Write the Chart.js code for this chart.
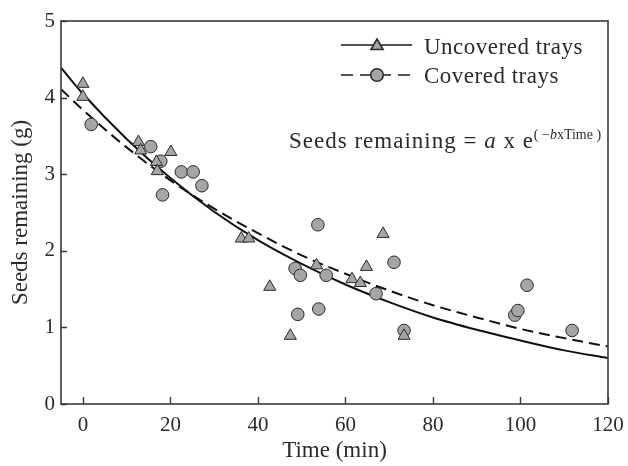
<!DOCTYPE html>
<html>
<head>
<meta charset="utf-8">
<script src="https://cdn.jsdelivr.net/npm/chart.js@4.4.0/dist/chart.umd.min.js"></script>
<style>
html, body { margin: 0; padding: 0; background: #fff; }
#wrap { width: 628px; height: 466px; }
</style>
</head>
<body>
<div id="wrap"><canvas id="chart" width="628" height="466"></canvas></div>
<script>
// 数据
const uncoveredTime  = [0, 0, 12.7, 13.2, 16.8, 17.0, 20.1, 36.2, 37.9, 42.7, 47.4, 53.4, 61.5, 63.4, 64.8, 68.6, 73.4];
const uncoveredSeeds = [4.18, 4.01, 3.42, 3.31, 3.16, 3.04, 3.29, 2.16, 2.16, 1.53, 0.89, 1.81, 1.63, 1.58, 1.79, 2.22, 0.89];

const coveredTime  = [1.9, 15.5, 17.8, 18.2, 22.5, 25.2, 27.2, 48.5, 49.1, 49.7, 53.7, 53.9, 55.6, 67.0, 71.1, 73.4, 98.7, 99.4, 101.5, 111.8];
const coveredSeeds = [3.65, 3.36, 3.17, 2.73, 3.03, 3.03, 2.85, 1.77, 1.17, 1.68, 2.34, 1.24, 1.68, 1.44, 1.85, 0.96, 1.16, 1.22, 1.55, 0.96];

// fitted curves
const fitTime        = [-5, 0, 10, 20, 30, 40, 50, 60, 70, 80, 90, 100, 110, 120];
const uncoveredFit   = [4.39, 4.05, 3.46, 2.95, 2.51, 2.14, 1.83, 1.56, 1.33, 1.13, 0.97, 0.83, 0.70, 0.60];
const coveredFit     = [4.11, 3.84, 3.35, 2.92, 2.55, 2.23, 1.94, 1.70, 1.48, 1.29, 1.13, 0.98, 0.86, 0.75];

const xTicks = [0, 20, 40, 60, 80, 100, 120];
const yTicks = [0, 1, 2, 3, 4, 5];

const SERIF = "'Liberation Serif', 'Times New Roman', serif";
const INK = '#2b2b2b';
const MARKER_FILL = '#a5a5a5';

function toPoints(xs, ys) {
    return xs.map((x, i) => ({ x: x, y: ys[i] }));
}

// 边框、刻度、图例、公式
const decorPlugin = {
    id: 'decor',
    afterDraw(chart) {
        const ctx = chart.ctx;
        const area = chart.chartArea;
        const xs = chart.scales.x;
        const ys = chart.scales.y;

        ctx.save();
        ctx.strokeStyle = '#3a3a3a';
        ctx.lineWidth = 1.6;
        ctx.strokeRect(area.left, area.top, area.right - area.left, area.bottom - area.top);

        // inward ticks
        ctx.lineWidth = 1.4;
        ctx.beginPath();
        xTicks.forEach(v => {
            const px = Math.round(xs.getPixelForValue(v)) + 0.5;
            ctx.moveTo(px, area.bottom);
            ctx.lineTo(px, area.bottom - 7);
        });
        yTicks.forEach(v => {
            const py = Math.round(ys.getPixelForValue(v)) + 0.5;
            ctx.moveTo(area.left, py);
            ctx.lineTo(area.left + 6, py);
        });
        ctx.stroke();

        // legend
        ctx.strokeStyle = '#1a1a1a';
        ctx.lineWidth = 1.6;
        ctx.beginPath();
        ctx.moveTo(341, 45);
        ctx.lineTo(412, 45);
        ctx.stroke();
        ctx.setLineDash([12, 7]);
        ctx.beginPath();
        ctx.moveTo(341, 75);
        ctx.lineTo(412, 75);
        ctx.stroke();
        ctx.setLineDash([]);

        ctx.fillStyle = MARKER_FILL;
        ctx.strokeStyle = INK;
        Chart.helpers.drawPoint(ctx, { pointStyle: 'triangle', radius: 7, rotation: 0, borderWidth: 1 }, 377, 46);
        Chart.helpers.drawPoint(ctx, { pointStyle: 'circle', radius: 6.3, rotation: 0, borderWidth: 1 }, 377, 75);

        ctx.fillStyle = INK;
        ctx.textBaseline = 'alphabetic';
        ctx.textAlign = 'left';
        ctx.letterSpacing = '0.5px';
        ctx.font = '23px ' + SERIF;
        ctx.fillText('Uncovered trays', 424, 54);
        ctx.fillText('Covered trays', 424, 83);

        // equation
        const pieces = [
            { t: 'Seeds remaining = ', f: '23px ' + SERIF, dy: 0, ls: '1px' },
            { t: 'a', f: 'italic 23px ' + SERIF, dy: 0, ls: '1px' },
            { t: ' x e', f: '23px ' + SERIF, dy: 0, ls: '1px' },
            { t: '( \u2212', f: '14px ' + SERIF, dy: -9, ls: '0px' },
            { t: 'b', f: 'italic 14px ' + SERIF, dy: -9, ls: '0px' },
            { t: 'xTime )', f: '14px ' + SERIF, dy: -9, ls: '0px' }
        ];
        let x = 289;
        pieces.forEach(p => {
            ctx.font = p.f;
            ctx.letterSpacing = p.ls;
            ctx.fillText(p.t, x, 148 + p.dy);
            x += ctx.measureText(p.t).width;
        });
        ctx.restore();
    }
};

const chart = new Chart(document.getElementById('chart'), {
    type: 'scatter',
    data: {
        datasets: [
            {
                label: 'Uncovered trays',
                data: toPoints(uncoveredTime, uncoveredSeeds),
                pointStyle: 'triangle',
                pointRadius: 7,
                backgroundColor: MARKER_FILL,
                borderColor: INK,
                borderWidth: 1,
                order: 0
            },
            {
                label: 'Covered trays',
                data: toPoints(coveredTime, coveredSeeds),
                pointStyle: 'circle',
                pointRadius: 6.3,
                backgroundColor: MARKER_FILL,
                borderColor: INK,
                borderWidth: 1,
                order: 0
            },
            {
                label: 'Uncovered fit',
                data: toPoints(fitTime, uncoveredFit),
                showLine: true,
                pointRadius: 0,
                borderColor: '#111',
                borderWidth: 2,
                cubicInterpolationMode: 'monotone',
                order: 1
            },
            {
                label: 'Covered fit',
                data: toPoints(fitTime, coveredFit),
                showLine: true,
                pointRadius: 0,
                borderColor: '#111',
                borderWidth: 2,
                borderDash: [11, 6],
                cubicInterpolationMode: 'monotone',
                order: 1
            }
        ]
    },
    options: {
        responsive: false,
        animation: false,
        devicePixelRatio: 1,
        layout: { padding: { top: 21, right: 20, left: 0, bottom: 0 } },
        plugins: {
            legend: { display: false },
            tooltip: { enabled: false }
        },
        scales: {
            x: {
                type: 'linear',
                min: -5,
                max: 120,
                afterBuildTicks: s => { s.ticks = xTicks.map(v => ({ value: v })); },
                afterFit: s => { s.height = 62; s.paddingLeft = 0; s.paddingRight = 0; },
                grid: { display: false, drawTicks: false },
                border: { display: false },
                ticks: { color: INK, padding: 9, maxRotation: 0, font: { family: SERIF, size: 21 } },
                title: {
                    display: true,
                    text: 'Time (min)',
                    color: INK,
                    font: { family: SERIF, size: 23 },
                    padding: { top: 0, bottom: 1 }
                }
            },
            y: {
                type: 'linear',
                min: 0,
                max: 5,
                afterBuildTicks: s => { s.ticks = yTicks.map(v => ({ value: v })); },
                afterFit: s => { s.width = 61; s.paddingTop = 0; s.paddingBottom = 0; },
                grid: { display: false, drawTicks: false },
                border: { display: false },
                ticks: { color: INK, padding: 6, font: { family: SERIF, size: 21 } },
                title: {
                    display: true,
                    text: 'Seeds remaining (g)',
                    color: INK,
                    font: { family: SERIF, size: 23 },
                    padding: { top: 7, bottom: 0 }
                }
            }
        }
    },
    plugins: [decorPlugin]
});
</script>
</body>
</html>
